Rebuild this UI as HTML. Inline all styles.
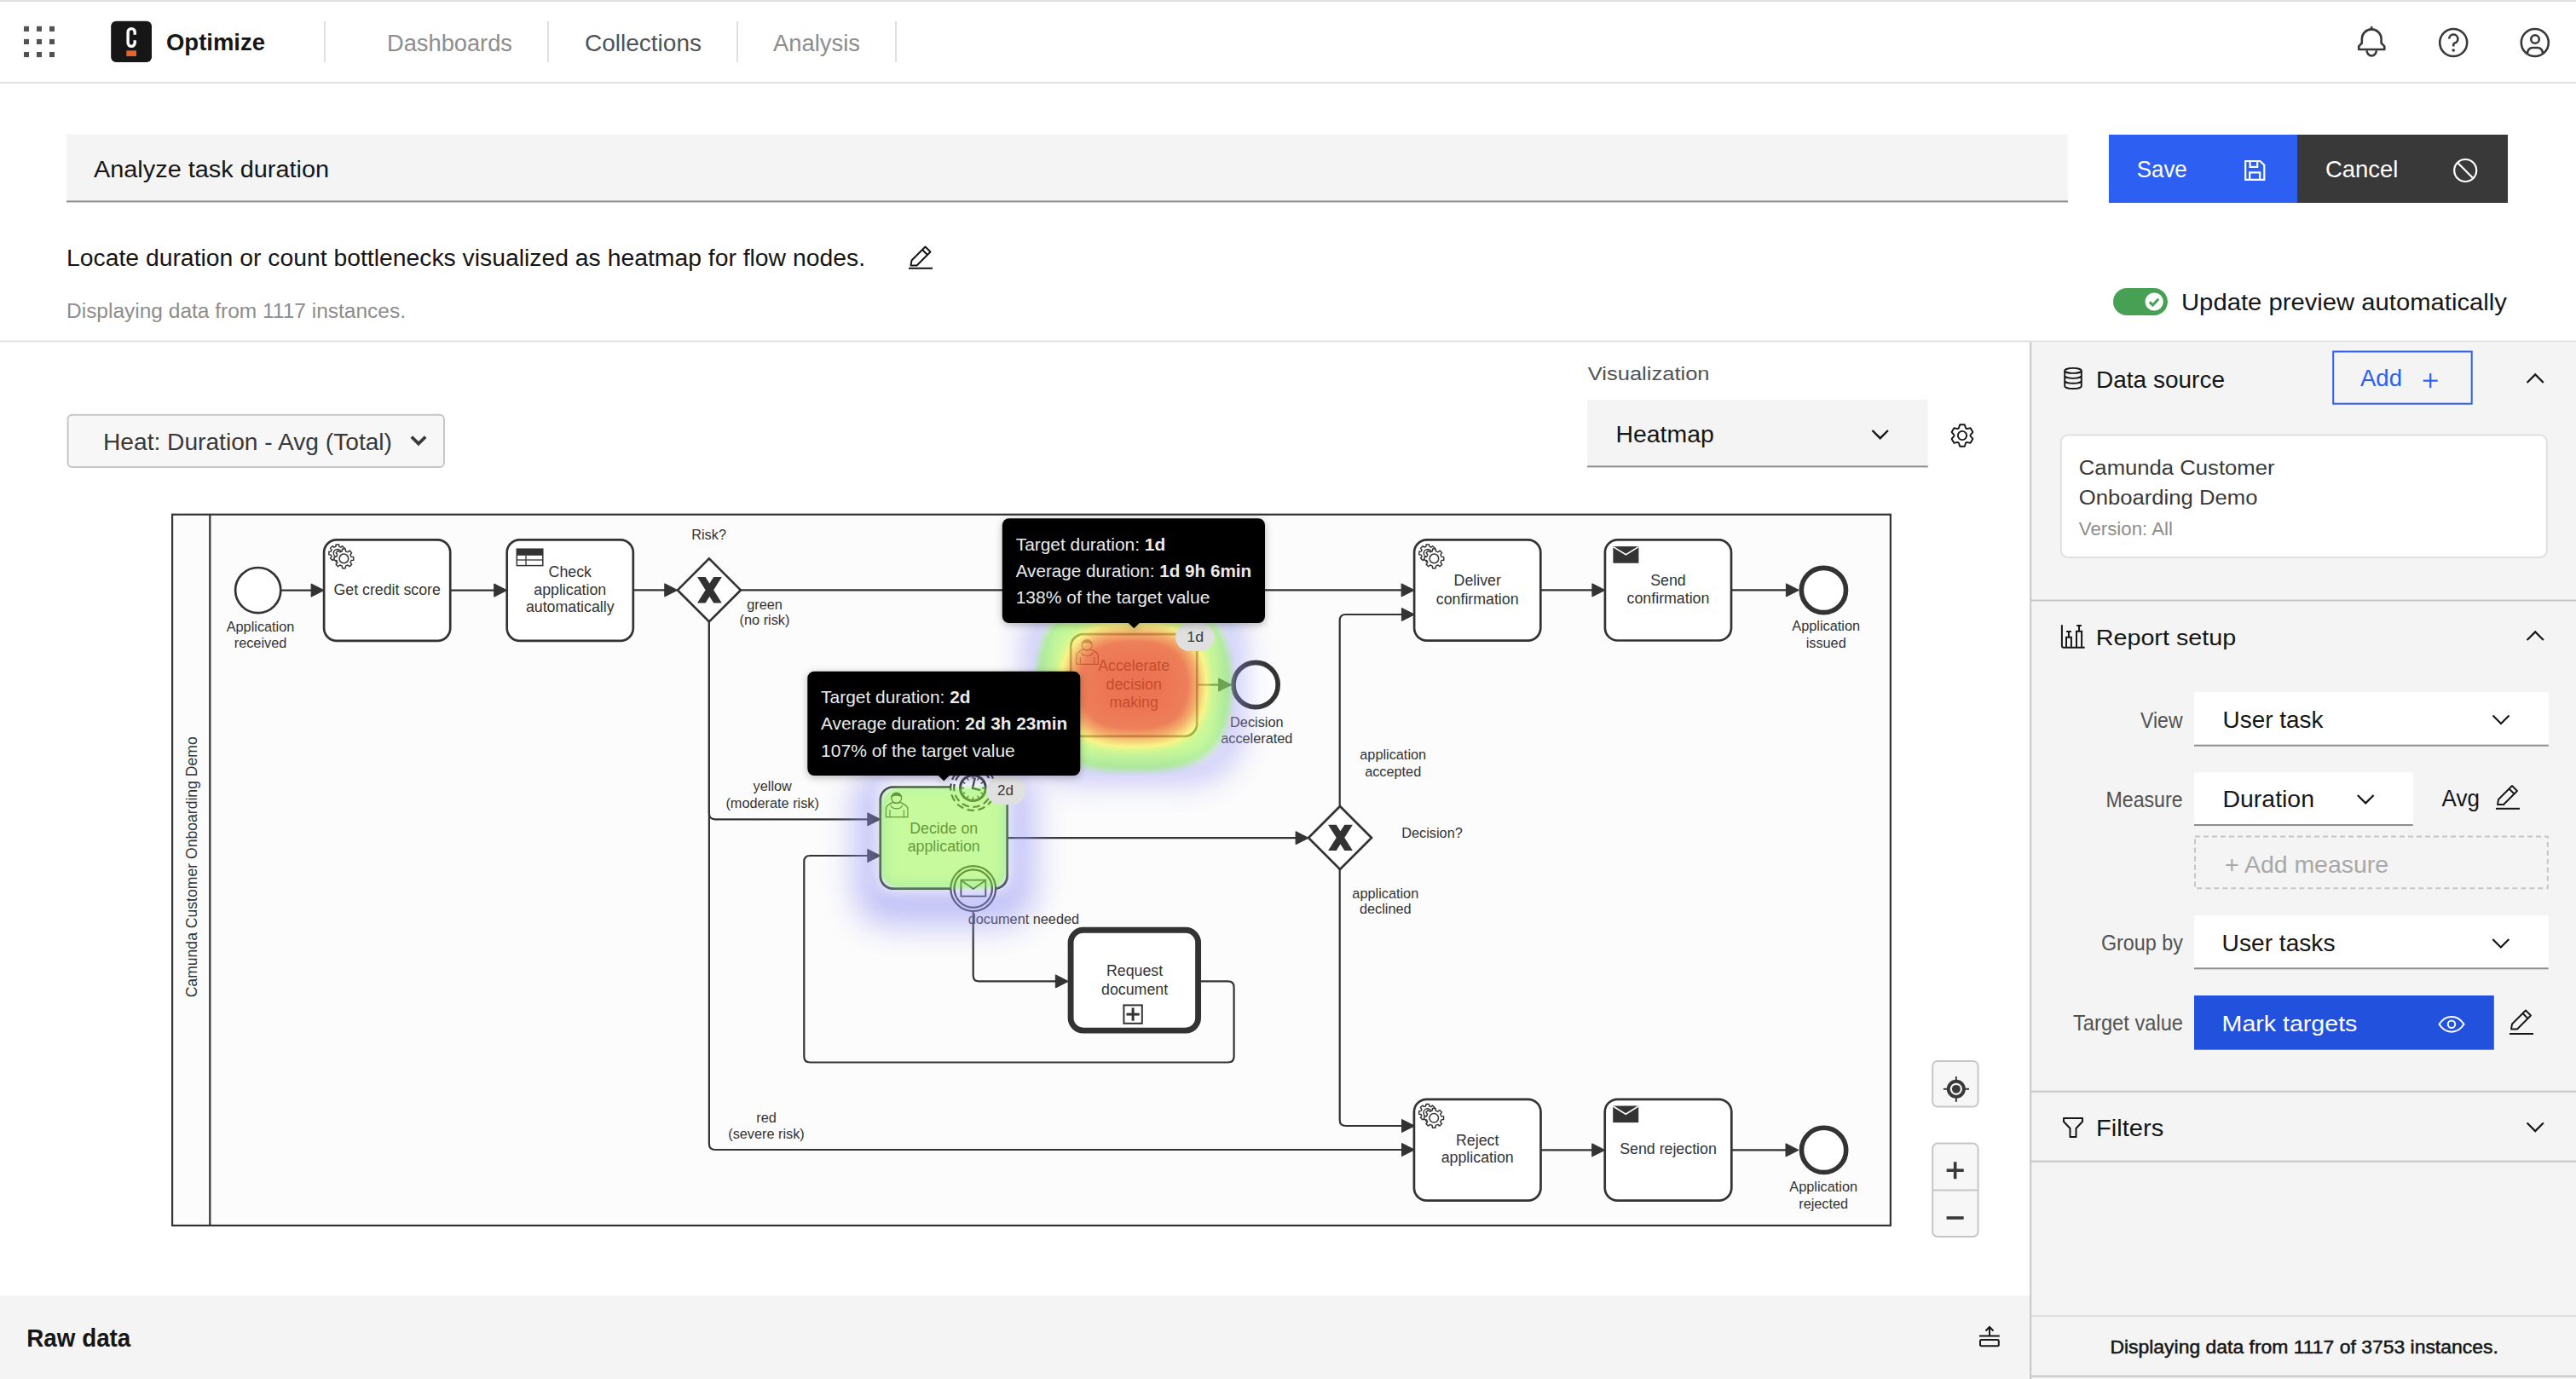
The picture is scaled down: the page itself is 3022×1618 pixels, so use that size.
<!DOCTYPE html>
<html><head><meta charset="utf-8"><title>Optimize</title><style>html,body{margin:0;padding:0;background:#fff;width:100%;height:100%;overflow:hidden;}text{font-family:"Liberation Sans",sans-serif;}</style></head><body>
<svg width="3022" height="1618" viewBox="0 0 3022 1618" preserveAspectRatio="none" style="display:block;width:100vw;height:100vh" font-family="Liberation Sans, sans-serif">
<defs>
<filter id="heat" filterUnits="userSpaceOnUse" x="900" y="620" width="700" height="560" color-interpolation-filters="sRGB">
<feGaussianBlur in="SourceAlpha" stdDeviation="30"/>
<feColorMatrix type="matrix" values="0 0 0 1 0  0 0 0 1 0  0 0 0 1 0  0 0 0 1 0"/>
<feComponentTransfer>
<feFuncR type="table" tableValues="0.506 0.506 0.506 0.506 0.506 0.506 0.506 0.506 0.506 0.506 0.506 0.506 0.506 0.506 0.506 0.506 0.506 0.506 0.506 0.506 0.506 0.506 0.506 0.506 0.506 0.506 0.508 0.512 0.516 0.519 0.523 0.527 0.531 0.535 0.539 0.543 0.546 0.550 0.554 0.558 0.562 0.566 0.569 0.573 0.577 0.581 0.585 0.589 0.593 0.596 0.600 0.604 0.608 0.612 0.616 0.620 0.623 0.627 0.631 0.635 0.639 0.643 0.654 0.667 0.680 0.692 0.705 0.718 0.731 0.744 0.757 0.770 0.783 0.796 0.808 0.821 0.834 0.847 0.860 0.873 0.886 0.899 0.911 0.924 0.937 0.950 0.963 0.972 0.971 0.971 0.970 0.969 0.969 0.968 0.967 0.967 0.966 0.966 0.965 0.964 0.964 0.963 0.962 0.962 0.961 0.961 0.960 0.959 0.959 0.958 0.957 0.957 0.956 0.956 0.955 0.954 0.954 0.953 0.952 0.952 0.951 0.951 0.950 0.949 0.948 0.947 0.946 0.945 0.945 0.944 0.943 0.942 0.941 0.940 0.939 0.938 0.937 0.936 0.935 0.934 0.933 0.933 0.932 0.931 0.930 0.929 0.928 0.927 0.926 0.925 0.924 0.923 0.922 0.921 0.920 0.920 0.919 0.918 0.917 0.917 0.916 0.916 0.916 0.916 0.916 0.916 0.916 0.916 0.916 0.916 0.915 0.915 0.915 0.915 0.915 0.915 0.915 0.915 0.915 0.915 0.914 0.914 0.914 0.914 0.914 0.914 0.914 0.914 0.914 0.914 0.913 0.913 0.913 0.913 0.913 0.913 0.913 0.913 0.913 0.913 0.912 0.912 0.912 0.912 0.912 0.912 0.912 0.912 0.912 0.912 0.911 0.911 0.911 0.911 0.911 0.911 0.911 0.911 0.911 0.911 0.910 0.910 0.910 0.910 0.910 0.910 0.910 0.910 0.910 0.909 0.909 0.909 0.909 0.909 0.909 0.909 0.909 0.909 0.909 0.908 0.908 0.908 0.908 0.908 0.908 0.908 0.908 0.908 0.908 0.907 0.907 0.907 0.907 0.907 0.907 0.907"/>
<feFuncG type="table" tableValues="0.961 0.961 0.961 0.961 0.961 0.961 0.961 0.961 0.961 0.961 0.961 0.961 0.961 0.961 0.961 0.961 0.961 0.961 0.961 0.961 0.961 0.961 0.961 0.961 0.961 0.961 0.961 0.961 0.961 0.961 0.961 0.961 0.961 0.962 0.962 0.962 0.962 0.962 0.962 0.962 0.962 0.962 0.962 0.963 0.963 0.963 0.963 0.963 0.963 0.963 0.963 0.963 0.963 0.964 0.964 0.964 0.964 0.964 0.964 0.964 0.964 0.964 0.964 0.963 0.963 0.962 0.962 0.961 0.960 0.960 0.959 0.959 0.958 0.958 0.957 0.956 0.956 0.955 0.955 0.954 0.953 0.953 0.952 0.952 0.951 0.951 0.950 0.947 0.937 0.928 0.918 0.909 0.900 0.890 0.881 0.871 0.862 0.852 0.843 0.834 0.824 0.815 0.805 0.796 0.786 0.777 0.768 0.758 0.749 0.739 0.730 0.720 0.711 0.702 0.692 0.683 0.673 0.664 0.654 0.645 0.636 0.626 0.617 0.609 0.602 0.596 0.589 0.583 0.576 0.569 0.563 0.556 0.550 0.543 0.536 0.530 0.523 0.517 0.510 0.503 0.497 0.490 0.484 0.477 0.470 0.464 0.457 0.451 0.444 0.437 0.431 0.424 0.418 0.411 0.404 0.398 0.391 0.385 0.378 0.377 0.376 0.375 0.375 0.374 0.373 0.373 0.372 0.371 0.370 0.370 0.369 0.368 0.368 0.367 0.366 0.365 0.365 0.364 0.363 0.363 0.362 0.361 0.361 0.360 0.359 0.358 0.358 0.357 0.356 0.356 0.355 0.354 0.353 0.353 0.352 0.351 0.351 0.350 0.349 0.348 0.348 0.347 0.346 0.346 0.345 0.344 0.344 0.343 0.342 0.341 0.341 0.340 0.339 0.339 0.338 0.337 0.336 0.336 0.335 0.334 0.334 0.333 0.332 0.331 0.331 0.330 0.329 0.329 0.328 0.327 0.327 0.326 0.325 0.324 0.324 0.323 0.322 0.322 0.321 0.320 0.319 0.319 0.318 0.317 0.317 0.316 0.315 0.314 0.314 0.313 0.312 0.312 0.311 0.310 0.310 0.309"/>
<feFuncB type="table" tableValues="0.255 0.255 0.255 0.255 0.255 0.255 0.255 0.255 0.255 0.255 0.255 0.255 0.255 0.255 0.255 0.255 0.255 0.255 0.255 0.255 0.255 0.255 0.255 0.255 0.255 0.255 0.255 0.255 0.256 0.256 0.256 0.257 0.257 0.257 0.257 0.258 0.258 0.258 0.259 0.259 0.259 0.260 0.260 0.260 0.260 0.261 0.261 0.261 0.262 0.262 0.262 0.263 0.263 0.263 0.263 0.264 0.264 0.264 0.265 0.265 0.265 0.266 0.268 0.271 0.274 0.277 0.280 0.284 0.287 0.290 0.293 0.296 0.299 0.302 0.305 0.308 0.311 0.315 0.318 0.321 0.324 0.327 0.330 0.333 0.336 0.339 0.342 0.344 0.342 0.340 0.338 0.336 0.334 0.332 0.329 0.327 0.325 0.323 0.321 0.319 0.317 0.315 0.313 0.311 0.309 0.307 0.305 0.303 0.301 0.299 0.297 0.294 0.292 0.290 0.288 0.286 0.284 0.282 0.280 0.278 0.276 0.274 0.272 0.270 0.267 0.265 0.263 0.261 0.258 0.256 0.254 0.252 0.250 0.247 0.245 0.243 0.241 0.238 0.236 0.234 0.232 0.229 0.227 0.225 0.223 0.220 0.218 0.216 0.214 0.212 0.209 0.207 0.205 0.203 0.200 0.198 0.196 0.194 0.191 0.191 0.191 0.190 0.190 0.190 0.189 0.189 0.189 0.188 0.188 0.188 0.188 0.187 0.187 0.187 0.186 0.186 0.186 0.185 0.185 0.185 0.185 0.184 0.184 0.184 0.183 0.183 0.183 0.182 0.182 0.182 0.181 0.181 0.181 0.181 0.180 0.180 0.180 0.179 0.179 0.179 0.178 0.178 0.178 0.178 0.177 0.177 0.177 0.176 0.176 0.176 0.175 0.175 0.175 0.175 0.174 0.174 0.174 0.173 0.173 0.173 0.172 0.172 0.172 0.171 0.171 0.171 0.171 0.170 0.170 0.170 0.169 0.169 0.169 0.168 0.168 0.168 0.168 0.167 0.167 0.167 0.166 0.166 0.166 0.165 0.165 0.165 0.164 0.164 0.164 0.164 0.163 0.163 0.163 0.162 0.162 0.162"/>
<feFuncA type="table" tableValues="0.000 0.000 0.000 0.000 0.000 0.000 0.000 0.000 0.000 0.000 0.000 0.000 0.000 0.010 0.049 0.088 0.127 0.167 0.206 0.245 0.284 0.324 0.363 0.402 0.441 0.480 0.501 0.502 0.504 0.505 0.506 0.508 0.509 0.511 0.512 0.513 0.515 0.516 0.518 0.519 0.520 0.522 0.523 0.525 0.526 0.527 0.529 0.530 0.532 0.533 0.534 0.536 0.537 0.539 0.540 0.541 0.543 0.544 0.546 0.547 0.548 0.550 0.555 0.561 0.566 0.572 0.578 0.584 0.590 0.596 0.602 0.608 0.614 0.619 0.625 0.631 0.637 0.643 0.649 0.655 0.661 0.666 0.672 0.678 0.684 0.690 0.696 0.701 0.703 0.705 0.707 0.710 0.712 0.714 0.716 0.719 0.721 0.723 0.725 0.728 0.730 0.732 0.734 0.737 0.739 0.741 0.743 0.745 0.748 0.750 0.752 0.754 0.757 0.759 0.761 0.763 0.766 0.768 0.770 0.772 0.775 0.777 0.779 0.780 0.781 0.781 0.782 0.783 0.783 0.784 0.784 0.785 0.785 0.786 0.786 0.787 0.788 0.788 0.789 0.789 0.790 0.790 0.791 0.792 0.792 0.793 0.793 0.794 0.794 0.795 0.795 0.796 0.797 0.797 0.798 0.798 0.799 0.799 0.800 0.800 0.800 0.800 0.800 0.800 0.800 0.800 0.800 0.800 0.800 0.800 0.800 0.800 0.800 0.800 0.800 0.800 0.800 0.800 0.800 0.800 0.800 0.800 0.800 0.800 0.800 0.800 0.800 0.800 0.800 0.800 0.800 0.800 0.800 0.800 0.800 0.800 0.800 0.800 0.800 0.800 0.800 0.800 0.800 0.800 0.800 0.800 0.800 0.800 0.800 0.800 0.800 0.800 0.800 0.800 0.800 0.800 0.800 0.800 0.800 0.800 0.800 0.800 0.800 0.800 0.800 0.800 0.800 0.800 0.800 0.800 0.800 0.800 0.800 0.800 0.800 0.800 0.800 0.800 0.800 0.800 0.800 0.800 0.800 0.800 0.800 0.800 0.800 0.800 0.800 0.800 0.800 0.800 0.800 0.800 0.800 0.800"/>
</feComponentTransfer>
</filter>
<filter id="heat2" filterUnits="userSpaceOnUse" x="900" y="620" width="700" height="560" color-interpolation-filters="sRGB">
<feGaussianBlur in="SourceAlpha" stdDeviation="9"/>
<feColorMatrix type="matrix" values="0 0 0 1 0  0 0 0 1 0  0 0 0 1 0  0 0 0 1 0"/>
<feComponentTransfer>
<feFuncR type="table" tableValues="0.506 0.506 0.506 0.506 0.506 0.506 0.506 0.506 0.506 0.506 0.506 0.506 0.506 0.506 0.506 0.506 0.506 0.506 0.506 0.506 0.506 0.506 0.506 0.506 0.506 0.506 0.508 0.512 0.516 0.519 0.523 0.527 0.531 0.535 0.539 0.543 0.546 0.550 0.554 0.558 0.562 0.566 0.569 0.573 0.577 0.581 0.585 0.589 0.593 0.596 0.600 0.604 0.608 0.612 0.616 0.620 0.623 0.627 0.631 0.635 0.639 0.643 0.654 0.667 0.680 0.692 0.705 0.718 0.731 0.744 0.757 0.770 0.783 0.796 0.808 0.821 0.834 0.847 0.860 0.873 0.886 0.899 0.911 0.924 0.937 0.950 0.963 0.972 0.971 0.971 0.970 0.969 0.969 0.968 0.967 0.967 0.966 0.966 0.965 0.964 0.964 0.963 0.962 0.962 0.961 0.961 0.960 0.959 0.959 0.958 0.957 0.957 0.956 0.956 0.955 0.954 0.954 0.953 0.952 0.952 0.951 0.951 0.950 0.949 0.948 0.947 0.946 0.945 0.945 0.944 0.943 0.942 0.941 0.940 0.939 0.938 0.937 0.936 0.935 0.934 0.933 0.933 0.932 0.931 0.930 0.929 0.928 0.927 0.926 0.925 0.924 0.923 0.922 0.921 0.920 0.920 0.919 0.918 0.917 0.917 0.916 0.916 0.916 0.916 0.916 0.916 0.916 0.916 0.916 0.916 0.915 0.915 0.915 0.915 0.915 0.915 0.915 0.915 0.915 0.915 0.914 0.914 0.914 0.914 0.914 0.914 0.914 0.914 0.914 0.914 0.913 0.913 0.913 0.913 0.913 0.913 0.913 0.913 0.913 0.913 0.912 0.912 0.912 0.912 0.912 0.912 0.912 0.912 0.912 0.912 0.911 0.911 0.911 0.911 0.911 0.911 0.911 0.911 0.911 0.911 0.910 0.910 0.910 0.910 0.910 0.910 0.910 0.910 0.910 0.909 0.909 0.909 0.909 0.909 0.909 0.909 0.909 0.909 0.909 0.908 0.908 0.908 0.908 0.908 0.908 0.908 0.908 0.908 0.908 0.907 0.907 0.907 0.907 0.907 0.907 0.907"/>
<feFuncG type="table" tableValues="0.961 0.961 0.961 0.961 0.961 0.961 0.961 0.961 0.961 0.961 0.961 0.961 0.961 0.961 0.961 0.961 0.961 0.961 0.961 0.961 0.961 0.961 0.961 0.961 0.961 0.961 0.961 0.961 0.961 0.961 0.961 0.961 0.961 0.962 0.962 0.962 0.962 0.962 0.962 0.962 0.962 0.962 0.962 0.963 0.963 0.963 0.963 0.963 0.963 0.963 0.963 0.963 0.963 0.964 0.964 0.964 0.964 0.964 0.964 0.964 0.964 0.964 0.964 0.963 0.963 0.962 0.962 0.961 0.960 0.960 0.959 0.959 0.958 0.958 0.957 0.956 0.956 0.955 0.955 0.954 0.953 0.953 0.952 0.952 0.951 0.951 0.950 0.947 0.937 0.928 0.918 0.909 0.900 0.890 0.881 0.871 0.862 0.852 0.843 0.834 0.824 0.815 0.805 0.796 0.786 0.777 0.768 0.758 0.749 0.739 0.730 0.720 0.711 0.702 0.692 0.683 0.673 0.664 0.654 0.645 0.636 0.626 0.617 0.609 0.602 0.596 0.589 0.583 0.576 0.569 0.563 0.556 0.550 0.543 0.536 0.530 0.523 0.517 0.510 0.503 0.497 0.490 0.484 0.477 0.470 0.464 0.457 0.451 0.444 0.437 0.431 0.424 0.418 0.411 0.404 0.398 0.391 0.385 0.378 0.377 0.376 0.375 0.375 0.374 0.373 0.373 0.372 0.371 0.370 0.370 0.369 0.368 0.368 0.367 0.366 0.365 0.365 0.364 0.363 0.363 0.362 0.361 0.361 0.360 0.359 0.358 0.358 0.357 0.356 0.356 0.355 0.354 0.353 0.353 0.352 0.351 0.351 0.350 0.349 0.348 0.348 0.347 0.346 0.346 0.345 0.344 0.344 0.343 0.342 0.341 0.341 0.340 0.339 0.339 0.338 0.337 0.336 0.336 0.335 0.334 0.334 0.333 0.332 0.331 0.331 0.330 0.329 0.329 0.328 0.327 0.327 0.326 0.325 0.324 0.324 0.323 0.322 0.322 0.321 0.320 0.319 0.319 0.318 0.317 0.317 0.316 0.315 0.314 0.314 0.313 0.312 0.312 0.311 0.310 0.310 0.309"/>
<feFuncB type="table" tableValues="0.255 0.255 0.255 0.255 0.255 0.255 0.255 0.255 0.255 0.255 0.255 0.255 0.255 0.255 0.255 0.255 0.255 0.255 0.255 0.255 0.255 0.255 0.255 0.255 0.255 0.255 0.255 0.255 0.256 0.256 0.256 0.257 0.257 0.257 0.257 0.258 0.258 0.258 0.259 0.259 0.259 0.260 0.260 0.260 0.260 0.261 0.261 0.261 0.262 0.262 0.262 0.263 0.263 0.263 0.263 0.264 0.264 0.264 0.265 0.265 0.265 0.266 0.268 0.271 0.274 0.277 0.280 0.284 0.287 0.290 0.293 0.296 0.299 0.302 0.305 0.308 0.311 0.315 0.318 0.321 0.324 0.327 0.330 0.333 0.336 0.339 0.342 0.344 0.342 0.340 0.338 0.336 0.334 0.332 0.329 0.327 0.325 0.323 0.321 0.319 0.317 0.315 0.313 0.311 0.309 0.307 0.305 0.303 0.301 0.299 0.297 0.294 0.292 0.290 0.288 0.286 0.284 0.282 0.280 0.278 0.276 0.274 0.272 0.270 0.267 0.265 0.263 0.261 0.258 0.256 0.254 0.252 0.250 0.247 0.245 0.243 0.241 0.238 0.236 0.234 0.232 0.229 0.227 0.225 0.223 0.220 0.218 0.216 0.214 0.212 0.209 0.207 0.205 0.203 0.200 0.198 0.196 0.194 0.191 0.191 0.191 0.190 0.190 0.190 0.189 0.189 0.189 0.188 0.188 0.188 0.188 0.187 0.187 0.187 0.186 0.186 0.186 0.185 0.185 0.185 0.185 0.184 0.184 0.184 0.183 0.183 0.183 0.182 0.182 0.182 0.181 0.181 0.181 0.181 0.180 0.180 0.180 0.179 0.179 0.179 0.178 0.178 0.178 0.178 0.177 0.177 0.177 0.176 0.176 0.176 0.175 0.175 0.175 0.175 0.174 0.174 0.174 0.173 0.173 0.173 0.172 0.172 0.172 0.171 0.171 0.171 0.171 0.170 0.170 0.170 0.169 0.169 0.169 0.168 0.168 0.168 0.168 0.167 0.167 0.167 0.166 0.166 0.166 0.165 0.165 0.165 0.164 0.164 0.164 0.164 0.163 0.163 0.163 0.162 0.162 0.162"/>
<feFuncA type="table" tableValues="0.000 0.000 0.000 0.000 0.000 0.000 0.000 0.000 0.000 0.000 0.000 0.000 0.000 0.010 0.049 0.088 0.127 0.167 0.206 0.245 0.284 0.324 0.363 0.402 0.441 0.480 0.501 0.502 0.504 0.505 0.506 0.508 0.509 0.511 0.512 0.513 0.515 0.516 0.518 0.519 0.520 0.522 0.523 0.525 0.526 0.527 0.529 0.530 0.532 0.533 0.534 0.536 0.537 0.539 0.540 0.541 0.543 0.544 0.546 0.547 0.548 0.550 0.555 0.561 0.566 0.572 0.578 0.584 0.590 0.596 0.602 0.608 0.614 0.619 0.625 0.631 0.637 0.643 0.649 0.655 0.661 0.666 0.672 0.678 0.684 0.690 0.696 0.701 0.703 0.705 0.707 0.710 0.712 0.714 0.716 0.719 0.721 0.723 0.725 0.728 0.730 0.732 0.734 0.737 0.739 0.741 0.743 0.745 0.748 0.750 0.752 0.754 0.757 0.759 0.761 0.763 0.766 0.768 0.770 0.772 0.775 0.777 0.779 0.780 0.781 0.781 0.782 0.783 0.783 0.784 0.784 0.785 0.785 0.786 0.786 0.787 0.788 0.788 0.789 0.789 0.790 0.790 0.791 0.792 0.792 0.793 0.793 0.794 0.794 0.795 0.795 0.796 0.797 0.797 0.798 0.798 0.799 0.799 0.800 0.800 0.800 0.800 0.800 0.800 0.800 0.800 0.800 0.800 0.800 0.800 0.800 0.800 0.800 0.800 0.800 0.800 0.800 0.800 0.800 0.800 0.800 0.800 0.800 0.800 0.800 0.800 0.800 0.800 0.800 0.800 0.800 0.800 0.800 0.800 0.800 0.800 0.800 0.800 0.800 0.800 0.800 0.800 0.800 0.800 0.800 0.800 0.800 0.800 0.800 0.800 0.800 0.800 0.800 0.800 0.800 0.800 0.800 0.800 0.800 0.800 0.800 0.800 0.800 0.800 0.800 0.800 0.800 0.800 0.800 0.800 0.800 0.800 0.800 0.800 0.800 0.800 0.800 0.800 0.800 0.800 0.800 0.800 0.800 0.800 0.800 0.800 0.800 0.800 0.800 0.800 0.800 0.800 0.800 0.800 0.800 0.800"/>
</feComponentTransfer>
</filter>
<filter id="halo" filterUnits="userSpaceOnUse" x="850" y="600" width="800" height="600"><feGaussianBlur stdDeviation="19"/></filter>
<filter id="mblur" filterUnits="userSpaceOnUse" x="850" y="600" width="800" height="600"><feGaussianBlur stdDeviation="10"/></filter>
<mask id="halomask" maskUnits="userSpaceOnUse" x="850" y="600" width="800" height="600">
<rect x="850" y="600" width="800" height="600" fill="#fff"/>
<g filter="url(#mblur)"><rect x="1226.2" y="714.1" width="208" height="179.8" rx="40" fill="#000"/><rect x="1030.8" y="913.5" width="152.8" height="131.1" rx="15" fill="#000"/></g>
</mask>
<filter id="tshadow" x="-20%" y="-20%" width="140%" height="140%" color-interpolation-filters="sRGB">
<feDropShadow dx="0" dy="2" stdDeviation="5" flood-color="#000" flood-opacity="0.28"/>
</filter>
<marker id="arr" viewBox="0 0 20 20" refX="11" refY="10" markerWidth="10" markerHeight="10" orient="auto"><path d="M1,5 L11,10 L1,15 Z" fill="#22242a"/></marker>
</defs>
<rect x="0.00" y="0.00" width="3022.00" height="2.00" fill="#e0e0e0"/>
<rect x="0.00" y="96.00" width="3022.00" height="2.00" fill="#e0e0e0"/>
<rect x="28.00" y="30.80" width="6.00" height="6.10" fill="#525252"/>
<rect x="28.00" y="45.90" width="6.00" height="6.10" fill="#525252"/>
<rect x="28.00" y="61.00" width="6.00" height="6.10" fill="#525252"/>
<rect x="43.00" y="30.80" width="6.00" height="6.10" fill="#525252"/>
<rect x="43.00" y="45.90" width="6.00" height="6.10" fill="#525252"/>
<rect x="43.00" y="61.00" width="6.00" height="6.10" fill="#525252"/>
<rect x="58.00" y="30.80" width="6.00" height="6.10" fill="#525252"/>
<rect x="58.00" y="45.90" width="6.00" height="6.10" fill="#525252"/>
<rect x="58.00" y="61.00" width="6.00" height="6.10" fill="#525252"/>
<rect x="130.20" y="24.80" width="47.80" height="48.20" fill="#161616" rx="6"/>
<path d="M158.2,40.8 V37.65 A4.05,4.05 0 0 0 150.1,37.65 V50.35 A4.05,4.05 0 0 0 158.2,50.35 V47.2" fill="none" stroke="#fff" stroke-width="3.4"/>
<rect x="148.30" y="59.30" width="11.70" height="6.70" fill="#e8632b"/>
<text x="195.00" y="59.00" font-size="28.21" fill="#161616" font-weight="bold" textLength="115.99" lengthAdjust="spacingAndGlyphs">Optimize</text>
<rect x="380.00" y="25.00" width="2.00" height="48.00" fill="#e0e0e0"/>
<rect x="642.00" y="25.00" width="2.00" height="48.00" fill="#e0e0e0"/>
<rect x="864.00" y="25.00" width="2.00" height="48.00" fill="#e0e0e0"/>
<rect x="1050.00" y="25.00" width="2.00" height="48.00" fill="#e0e0e0"/>
<text x="454.00" y="60.10" font-size="27.93" fill="#8d8d8d" textLength="147.00" lengthAdjust="spacingAndGlyphs">Dashboards</text>
<text x="686.00" y="60.10" font-size="27.93" fill="#525252" textLength="137.00" lengthAdjust="spacingAndGlyphs">Collections</text>
<text x="907.00" y="60.10" font-size="27.93" fill="#8d8d8d" textLength="101.99" lengthAdjust="spacingAndGlyphs">Analysis</text>
<path d="M2782.2,34 V31" fill="none" stroke="#393939" stroke-width="2.6"/>
<path d="M2770.8,50.5 V45.8 A11.4,11.4 0 0 1 2793.6,45.8 V50.5 L2797.3,54.3 V58 H2767.2 V54.3 Z" fill="none" stroke="#393939" stroke-width="2.6" stroke-linejoin="round"/>
<path d="M2776.6,59.2 A5.6,6.4 0 0 0 2787.8,59.2" fill="none" stroke="#393939" stroke-width="2.6"/>
<circle cx="2878.2" cy="50" r="16" fill="none" stroke="#393939" stroke-width="2.6"/>
<path d="M2873.2,45.6 A5.1,5.1 0 1 1 2879.5,50.6 Q2878.2,51.2 2878.2,52.8 V54.4" fill="none" stroke="#393939" stroke-width="2.6"/>
<circle cx="2878.2" cy="59" r="1.8" fill="#393939"/>
<circle cx="2973.8" cy="50" r="16" fill="none" stroke="#393939" stroke-width="2.6"/>
<circle cx="2974" cy="46" r="4.8" fill="none" stroke="#393939" stroke-width="2.6"/>
<path d="M2965.2,62.6 A6,6 0 0 1 2970.6,56 H2977.4 A6,6 0 0 1 2982.8,62.6" fill="none" stroke="#393939" stroke-width="2.6"/>
<rect x="78.00" y="157.70" width="2348.00" height="78.00" fill="#f4f4f4"/>
<rect x="78.00" y="235.40" width="2348.00" height="2.00" fill="#8d8d8d"/>
<text x="110.00" y="208.00" font-size="27.93" fill="#161616" textLength="276.00" lengthAdjust="spacingAndGlyphs">Analyze task duration</text>
<rect x="2474.00" y="158.00" width="221.00" height="80.00" fill="#2c5ff2"/>
<text x="2506.70" y="207.60" font-size="27.09" fill="#ffffff" textLength="59.11" lengthAdjust="spacingAndGlyphs">Save</text>
<path d="M2634.2,189 H2651.5 L2656.3,193.8 V210.8 H2634.2 Z" fill="none" stroke="#fff" stroke-width="2.2" stroke-linejoin="miter"/>
<path d="M2639.6,189 V195.8 H2648.2 V189" fill="none" stroke="#fff" stroke-width="2.2"/>
<path d="M2639.2,210.8 V202.4 H2651.2 V210.8" fill="none" stroke="#fff" stroke-width="2.2"/>
<rect x="2695.00" y="158.00" width="247.00" height="80.00" fill="#393939"/>
<text x="2727.90" y="207.60" font-size="27.37" fill="#ffffff" textLength="85.49" lengthAdjust="spacingAndGlyphs">Cancel</text>
<circle cx="2892.2" cy="200" r="13" fill="none" stroke="#fff" stroke-width="2.2"/>
<line x1="2883.00" y1="190.80" x2="2901.40" y2="209.20" stroke="#fff" stroke-width="2.2"/>
<text x="78.00" y="312.10" font-size="27.93" fill="#161616" textLength="937.01" lengthAdjust="spacingAndGlyphs">Locate duration or count bottlenecks visualized as heatmap for flow nodes.</text>
<path d="M1068.5,311.5 L1069.5,305.5 L1085.5,289.5 L1091.5,295.5 L1075.5,311.5 Z M1082,293 L1088,299" fill="none" stroke="#161616" stroke-width="2.0" stroke-linejoin="round"/>
<rect x="1066.00" y="313.80" width="28.00" height="2.00" fill="#161616"/>
<text x="78.00" y="372.90" font-size="23.04" fill="#8d8d8d" textLength="397.99" lengthAdjust="spacingAndGlyphs">Displaying data from 1117 instances.</text>
<rect x="2479.00" y="338.00" width="64.00" height="32.00" fill="#48a055" rx="16"/>
<circle cx="2527.2" cy="354" r="10.6" fill="#fff"/>
<path d="M2521.8,354.4 L2525.4,358 L2532.2,350.8" fill="none" stroke="#48a055" stroke-width="3"/>
<text x="2559.00" y="364.40" font-size="28.49" fill="#161616" textLength="382.00" lengthAdjust="spacingAndGlyphs">Update preview automatically</text>
<rect x="0.00" y="399.50" width="3022.00" height="2.00" fill="#e0e0e0"/>
<rect x="79.60" y="486.70" width="441.40" height="61.30" fill="#f7f7f7" rx="5" stroke="#c6c6c6" stroke-width="2"/>
<text x="121.00" y="527.90" font-size="27.37" fill="#393939" textLength="338.99" lengthAdjust="spacingAndGlyphs">Heat: Duration - Avg (Total)</text>
<path d="M482.8,512.5 L491,520.5 L499.2,512.5" fill="none" stroke="#393939" stroke-width="3.8"/>
<text x="1862.80" y="445.90" font-size="22.35" fill="#525252" textLength="142.71" lengthAdjust="spacingAndGlyphs">Visualization</text>
<rect x="1862.00" y="469.00" width="399.70" height="78.00" fill="#f4f4f4"/>
<rect x="1862.00" y="546.40" width="399.70" height="2.00" fill="#8d8d8d"/>
<text x="1895.50" y="519.10" font-size="27.65" fill="#161616" textLength="115.29" lengthAdjust="spacingAndGlyphs">Heatmap</text>
<path d="M2196.5,505 L2205.7,514.2 L2214.9,505" fill="none" stroke="#161616" stroke-width="2.4"/>
<path d="M2297.84,502.35 L2299.22,498.30 L2304.78,498.30 L2306.16,502.35 L2307.41,503.07 L2311.61,502.24 L2314.39,507.06 L2311.57,510.27 L2311.57,511.73 L2314.39,514.94 L2311.61,519.76 L2307.41,518.93 L2306.16,519.65 L2304.78,523.70 L2299.22,523.70 L2297.84,519.65 L2296.59,518.93 L2292.39,519.76 L2289.61,514.94 L2292.43,511.73 L2292.43,510.27 L2289.61,507.06 L2292.39,502.24 L2296.59,503.07 Z" fill="none" stroke="#161616" stroke-width="1.9" stroke-linejoin="round"/>
<circle cx="2302" cy="511" r="5.1" fill="none" stroke="#161616" stroke-width="1.9"/>
<rect x="2267.20" y="1244.90" width="53.40" height="53.70" fill="#f7f7f7" rx="6" stroke="#c6c6c6" stroke-width="2"/>
<circle cx="2294.85" cy="1277.8" r="9.1" fill="none" stroke="#393939" stroke-width="3.9"/>
<circle cx="2294.85" cy="1277.8" r="4.9" fill="#393939"/>
<line x1="2294.85" y1="1263.00" x2="2294.85" y2="1267.50" stroke="#393939" stroke-width="2"/>
<line x1="2294.85" y1="1288.20" x2="2294.85" y2="1292.90" stroke="#393939" stroke-width="2"/>
<line x1="2279.90" y1="1277.80" x2="2284.40" y2="1277.80" stroke="#393939" stroke-width="2"/>
<line x1="2305.30" y1="1277.80" x2="2310.00" y2="1277.80" stroke="#393939" stroke-width="2"/>
<rect x="2267.20" y="1341.60" width="53.40" height="109.40" fill="#f7f7f7" rx="6" stroke="#c6c6c6" stroke-width="2"/>
<rect x="2267.20" y="1395.50" width="53.40" height="2.00" fill="#c6c6c6"/>
<rect x="2283.60" y="1371.40" width="20.10" height="3.60" fill="#393939"/>
<rect x="2291.85" y="1363.20" width="3.60" height="20.00" fill="#393939"/>
<rect x="2283.60" y="1427.20" width="20.10" height="3.60" fill="#393939"/>
<rect x="0.00" y="1520.00" width="2382.00" height="98.00" fill="#f4f4f4"/>
<text x="31.30" y="1580.00" font-size="29.33" fill="#161616" font-weight="bold" textLength="122.01" lengthAdjust="spacingAndGlyphs">Raw data</text>
<path d="M2334,1568 V1557 M2329.5,1561.5 L2334,1557 L2338.5,1561.5" fill="none" stroke="#161616" stroke-width="2"/>
<rect x="2322.00" y="1566.50" width="23.80" height="2.00" fill="#161616"/>
<rect x="2323.00" y="1572.00" width="21.80" height="7.20" fill="none" rx="1.5" stroke="#161616" stroke-width="2"/>
<rect x="202.07" y="603.70" width="2015.80" height="834.20" fill="#fcfcfc" stroke="#333333" stroke-width="2.2"/>
<line x1="246.30" y1="603.70" x2="246.30" y2="1437.90" stroke="#333333" stroke-width="2.2"/>
<text transform="translate(230.6,1017.3) rotate(-90)" font-size="17.6" fill="#333333" text-anchor="middle">Camunda Customer Onboarding Demo</text>
<path d="M330.00,692.60 L371.10,692.60" fill="none" stroke="#333333" stroke-width="2.2" stroke-linejoin="round"/>
<path d="M380.10,692.60 L365.10,700.20 L365.10,685.00 Z" fill="#333333" stroke="#333333" stroke-width="1" stroke-linejoin="round"/>
<path d="M528.20,692.60 L585.70,692.60" fill="none" stroke="#333333" stroke-width="2.2" stroke-linejoin="round"/>
<path d="M594.70,692.60 L579.70,700.20 L579.70,685.00 Z" fill="#333333" stroke="#333333" stroke-width="1" stroke-linejoin="round"/>
<path d="M742.80,692.40 L785.75,692.40" fill="none" stroke="#333333" stroke-width="2.2" stroke-linejoin="round"/>
<path d="M794.75,692.40 L779.75,700.00 L779.75,684.80 Z" fill="#333333" stroke="#333333" stroke-width="1" stroke-linejoin="round"/>
<path d="M868.80,692.40 L1650.10,692.40" fill="none" stroke="#333333" stroke-width="2.2" stroke-linejoin="round"/>
<path d="M1659.10,692.40 L1644.10,700.00 L1644.10,684.80 Z" fill="#333333" stroke="#333333" stroke-width="1" stroke-linejoin="round"/>
<path d="M831.90,728.90 L831.90,954.30 Q831.90,961.30 838.90,961.30 L1023.80,961.30" fill="none" stroke="#333333" stroke-width="2.2" stroke-linejoin="round"/>
<path d="M1032.80,961.30 L1017.80,968.90 L1017.80,953.70 Z" fill="#333333" stroke="#333333" stroke-width="1" stroke-linejoin="round"/>
<path d="M831.90,728.90 L831.90,1342.00 Q831.90,1349.00 838.90,1349.00 L1650.50,1349.00" fill="none" stroke="#333333" stroke-width="2.2" stroke-linejoin="round"/>
<path d="M1659.50,1349.00 L1644.50,1356.60 L1644.50,1341.40 Z" fill="#333333" stroke="#333333" stroke-width="1" stroke-linejoin="round"/>
<path d="M1181.60,983.20 L1526.10,983.20" fill="none" stroke="#333333" stroke-width="2.2" stroke-linejoin="round"/>
<path d="M1535.10,983.20 L1520.10,990.80 L1520.10,975.60 Z" fill="#333333" stroke="#333333" stroke-width="1" stroke-linejoin="round"/>
<path d="M1571.70,946.30 L1571.70,728.00 Q1571.70,721.00 1578.70,721.00 L1650.40,721.00" fill="none" stroke="#333333" stroke-width="2.2" stroke-linejoin="round"/>
<path d="M1659.40,721.00 L1644.40,728.60 L1644.40,713.40 Z" fill="#333333" stroke="#333333" stroke-width="1" stroke-linejoin="round"/>
<path d="M1571.70,1019.70 L1571.70,1314.00 Q1571.70,1321.00 1578.70,1321.00 L1650.50,1321.00" fill="none" stroke="#333333" stroke-width="2.2" stroke-linejoin="round"/>
<path d="M1659.50,1321.00 L1644.50,1328.60 L1644.50,1313.40 Z" fill="#333333" stroke="#333333" stroke-width="1" stroke-linejoin="round"/>
<path d="M1807.30,692.40 L1873.90,692.40" fill="none" stroke="#333333" stroke-width="2.2" stroke-linejoin="round"/>
<path d="M1882.90,692.40 L1867.90,700.00 L1867.90,684.80 Z" fill="#333333" stroke="#333333" stroke-width="1" stroke-linejoin="round"/>
<path d="M2031.00,692.40 L2101.40,692.40" fill="none" stroke="#333333" stroke-width="2.2" stroke-linejoin="round"/>
<path d="M2110.40,692.40 L2095.40,700.00 L2095.40,684.80 Z" fill="#333333" stroke="#333333" stroke-width="1" stroke-linejoin="round"/>
<path d="M1807.50,1349.40 L1873.70,1349.40" fill="none" stroke="#333333" stroke-width="2.2" stroke-linejoin="round"/>
<path d="M1882.70,1349.40 L1867.70,1357.00 L1867.70,1341.80 Z" fill="#333333" stroke="#333333" stroke-width="1" stroke-linejoin="round"/>
<path d="M2031.00,1349.40 L2101.00,1349.40" fill="none" stroke="#333333" stroke-width="2.2" stroke-linejoin="round"/>
<path d="M2110.00,1349.40 L2095.00,1357.00 L2095.00,1341.80 Z" fill="#333333" stroke="#333333" stroke-width="1" stroke-linejoin="round"/>
<path d="M1404.20,803.50 L1435.60,803.50" fill="none" stroke="#333333" stroke-width="2.2" stroke-linejoin="round"/>
<path d="M1444.60,803.50 L1429.60,811.10 L1429.60,795.90 Z" fill="#333333" stroke="#333333" stroke-width="1" stroke-linejoin="round"/>
<path d="M1141.70,1069.50 L1141.70,1144.40 Q1141.70,1151.40 1148.70,1151.40 L1244.30,1151.40" fill="none" stroke="#333333" stroke-width="2.2" stroke-linejoin="round"/>
<path d="M1253.30,1151.40 L1238.30,1159.00 L1238.30,1143.80 Z" fill="#333333" stroke="#333333" stroke-width="1" stroke-linejoin="round"/>
<path d="M1406.20,1151.40 L1440.60,1151.40 Q1447.60,1151.40 1447.60,1158.40 L1447.60,1239.50 Q1447.60,1246.50 1440.60,1246.50 L950.30,1246.50 Q943.30,1246.50 943.30,1239.50 L943.30,1011.00 Q943.30,1004.00 950.30,1004.00 L1023.80,1004.00" fill="none" stroke="#333333" stroke-width="2.2" stroke-linejoin="round"/>
<path d="M1032.80,1004.00 L1017.80,1011.60 L1017.80,996.40 Z" fill="#333333" stroke="#333333" stroke-width="1" stroke-linejoin="round"/>
<circle cx="302.7" cy="692.6" r="26.6" fill="#ffffff" stroke="#333333" stroke-width="2.7"/>
<text x="305.50" y="741.00" font-size="16.29" fill="#333333" text-anchor="middle">Application</text>
<text x="305.50" y="760.10" font-size="16.29" fill="#333333" text-anchor="middle">received</text>
<rect x="380.10" y="633.40" width="148.10" height="118.50" fill="#ffffff" rx="14.8" stroke="#333333" stroke-width="2.7"/>
<path d="M393.82,641.43 L394.11,639.01 L397.69,639.01 L397.98,641.43 L399.82,642.19 L401.73,640.68 L404.27,643.22 L402.76,645.13 L403.52,646.97 L405.94,647.26 L405.94,650.84 L403.52,651.13 L402.76,652.97 L404.27,654.88 L401.73,657.42 L399.82,655.91 L397.98,656.67 L397.69,659.09 L394.11,659.09 L393.82,656.67 L391.98,655.91 L390.07,657.42 L387.53,654.88 L389.04,652.97 L388.28,651.13 L385.86,650.84 L385.86,647.26 L388.28,646.97 L389.04,645.13 L387.53,643.22 L390.07,640.68 L391.98,642.19 Z" fill="#ffffff" stroke="#333333" stroke-width="1.45" stroke-linejoin="round"/>
<circle cx="395.90" cy="649.05" r="4.6" fill="none" stroke="#333333" stroke-width="1.5"/>
<path d="M412.05,653.32 L414.76,653.61 L414.76,657.19 L412.05,657.48 L410.99,660.05 L412.70,662.16 L410.16,664.70 L408.05,662.99 L405.48,664.05 L405.19,666.76 L401.61,666.76 L401.32,664.05 L398.75,662.99 L396.64,664.70 L394.10,662.16 L395.81,660.05 L394.75,657.48 L392.04,657.19 L392.04,653.61 L394.75,653.32 L395.81,650.75 L394.10,648.64 L396.64,646.10 L398.75,647.81 L401.32,646.75 L401.61,644.04 L405.19,644.04 L405.48,646.75 L408.05,647.81 L410.16,646.10 L412.70,648.64 L410.99,650.75 Z" fill="#ffffff" stroke="#333333" stroke-width="1.45" stroke-linejoin="round"/>
<circle cx="403.40" cy="655.40" r="5.3" fill="none" stroke="#333333" stroke-width="1.5"/>
<text x="454.15" y="697.60" font-size="17.77" fill="#333333" text-anchor="middle">Get credit score</text>
<rect x="594.70" y="633.40" width="148.10" height="118.50" fill="#ffffff" rx="14.8" stroke="#333333" stroke-width="2.7"/>
<rect x="606.30" y="644.20" width="30.50" height="19.40" fill="#fff" stroke="#333333" stroke-width="1.5"/>
<rect x="606.30" y="644.20" width="30.50" height="7.60" fill="#333333"/>
<line x1="606.30" y1="657.00" x2="636.80" y2="657.00" stroke="#333333" stroke-width="1.3"/>
<line x1="617.00" y1="651.80" x2="617.00" y2="663.60" stroke="#333333" stroke-width="1.3"/>
<text x="668.75" y="676.50" font-size="17.77" fill="#333333" text-anchor="middle">Check</text>
<text x="668.75" y="697.60" font-size="17.77" fill="#333333" text-anchor="middle">application</text>
<text x="668.75" y="718.00" font-size="17.77" fill="#333333" text-anchor="middle">automatically</text>
<path d="M831.9,655.4 L868.9,692.4 L831.9,729.4 L794.9,692.4 Z" fill="#ffffff" stroke="#333333" stroke-width="2.7" stroke-linejoin="miter"/>
<path d="M818.0,677.1 L827.6,677.1 L846.8,707.5 L837.1999999999999,707.5 Z M837.1999999999999,677.1 L846.8,677.1 L827.6,707.5 L818.0,707.5 Z" fill="#333333" fill-rule="nonzero"/>
<text x="831.60" y="632.90" font-size="16.29" fill="#333333" text-anchor="middle">Risk?</text>
<text x="897.00" y="714.90" font-size="16.29" fill="#333333" text-anchor="middle">green</text>
<text x="897.00" y="733.20" font-size="16.29" fill="#333333" text-anchor="middle">(no risk)</text>
<text x="906.20" y="928.20" font-size="16.29" fill="#333333" text-anchor="middle">yellow</text>
<text x="906.20" y="947.50" font-size="16.29" fill="#333333" text-anchor="middle">(moderate risk)</text>
<text x="899.00" y="1316.90" font-size="16.29" fill="#333333" text-anchor="middle">red</text>
<text x="899.00" y="1336.00" font-size="16.29" fill="#333333" text-anchor="middle">(severe risk)</text>
<rect x="1659.10" y="633.40" width="148.20" height="118.20" fill="#ffffff" rx="14.8" stroke="#333333" stroke-width="2.7"/>
<path d="M1672.82,641.43 L1673.11,639.01 L1676.69,639.01 L1676.98,641.43 L1678.82,642.19 L1680.73,640.68 L1683.27,643.22 L1681.76,645.13 L1682.52,646.97 L1684.94,647.26 L1684.94,650.84 L1682.52,651.13 L1681.76,652.97 L1683.27,654.88 L1680.73,657.42 L1678.82,655.91 L1676.98,656.67 L1676.69,659.09 L1673.11,659.09 L1672.82,656.67 L1670.98,655.91 L1669.07,657.42 L1666.53,654.88 L1668.04,652.97 L1667.28,651.13 L1664.86,650.84 L1664.86,647.26 L1667.28,646.97 L1668.04,645.13 L1666.53,643.22 L1669.07,640.68 L1670.98,642.19 Z" fill="#ffffff" stroke="#333333" stroke-width="1.45" stroke-linejoin="round"/>
<circle cx="1674.90" cy="649.05" r="4.6" fill="none" stroke="#333333" stroke-width="1.5"/>
<path d="M1691.05,653.32 L1693.76,653.61 L1693.76,657.19 L1691.05,657.48 L1689.99,660.05 L1691.70,662.16 L1689.16,664.70 L1687.05,662.99 L1684.48,664.05 L1684.19,666.76 L1680.61,666.76 L1680.32,664.05 L1677.75,662.99 L1675.64,664.70 L1673.10,662.16 L1674.81,660.05 L1673.75,657.48 L1671.04,657.19 L1671.04,653.61 L1673.75,653.32 L1674.81,650.75 L1673.10,648.64 L1675.64,646.10 L1677.75,647.81 L1680.32,646.75 L1680.61,644.04 L1684.19,644.04 L1684.48,646.75 L1687.05,647.81 L1689.16,646.10 L1691.70,648.64 L1689.99,650.75 Z" fill="#ffffff" stroke="#333333" stroke-width="1.45" stroke-linejoin="round"/>
<circle cx="1682.40" cy="655.40" r="5.3" fill="none" stroke="#333333" stroke-width="1.5"/>
<text x="1733.20" y="687.00" font-size="17.77" fill="#333333" text-anchor="middle">Deliver</text>
<text x="1733.20" y="708.80" font-size="17.77" fill="#333333" text-anchor="middle">confirmation</text>
<rect x="1882.90" y="633.40" width="148.10" height="118.10" fill="#ffffff" rx="14.8" stroke="#333333" stroke-width="2.7"/>
<rect x="1892.40" y="641.10" width="30.00" height="19.60" fill="#333333"/>
<path d="M1892.6,641.6 L1907.4,650.8 L1922.2,641.6" fill="none" stroke="#fff" stroke-width="1.6"/>
<text x="1957.00" y="686.50" font-size="17.77" fill="#333333" text-anchor="middle">Send</text>
<text x="1957.00" y="708.20" font-size="17.77" fill="#333333" text-anchor="middle">confirmation</text>
<circle cx="2139.4" cy="692.5" r="26.1" fill="#ffffff" stroke="#333333" stroke-width="5.6"/>
<text x="2142.20" y="740.30" font-size="16.29" fill="#333333" text-anchor="middle">Application</text>
<text x="2142.20" y="759.90" font-size="16.29" fill="#333333" text-anchor="middle">issued</text>
<rect x="1256.20" y="744.10" width="148.00" height="119.80" fill="#ffffff" rx="14.8" stroke="#333333" stroke-width="2.7"/>
<path d="M1262.80,779.30 V769.70 C1262.80,766.10 1266.20,764.10 1270.50,762.00 C1272.70,763.40 1277.70,763.40 1279.90,762.00 C1284.20,764.10 1288.30,766.10 1288.30,769.70 V779.30 Z" fill="#fff" stroke="#333333" stroke-width="1.2"/>
<path d="M1268.40,765.30 C1269.70,770.90 1280.70,770.90 1282.10,765.30" fill="none" stroke="#333333" stroke-width="1.1"/>
<path d="M1267.40,779.30 V770.90 M1283.80,779.30 V770.90" fill="none" stroke="#333333" stroke-width="1.1"/>
<circle cx="1275.10" cy="756.70" r="6.0" fill="#fff" stroke="#333333" stroke-width="1.2"/>
<path d="M1268.80,757.30 C1268.40,748.70 1281.80,748.70 1281.40,757.30 C1280.00,754.90 1277.70,754.00 1275.10,754.40 C1272.50,754.00 1270.20,754.90 1268.80,757.30 Z" fill="#333333"/>
<text x="1330.20" y="787.00" font-size="17.77" fill="#333333" text-anchor="middle">Accelerate</text>
<text x="1330.20" y="808.80" font-size="17.77" fill="#333333" text-anchor="middle">decision</text>
<text x="1330.20" y="829.60" font-size="17.77" fill="#333333" text-anchor="middle">making</text>
<circle cx="1473.1" cy="803.5" r="26.1" fill="#ffffff" stroke="#333333" stroke-width="5.6"/>
<text x="1474.30" y="853.30" font-size="16.29" fill="#333333" text-anchor="middle">Decision</text>
<text x="1474.30" y="871.80" font-size="16.29" fill="#333333" text-anchor="middle">accelerated</text>
<rect x="1032.80" y="923.50" width="148.80" height="119.10" fill="#ffffff" rx="14.8" stroke="#333333" stroke-width="2.7"/>
<path d="M1039.40,958.70 V949.10 C1039.40,945.50 1042.80,943.50 1047.10,941.40 C1049.30,942.80 1054.30,942.80 1056.50,941.40 C1060.80,943.50 1064.90,945.50 1064.90,949.10 V958.70 Z" fill="#fff" stroke="#333333" stroke-width="1.2"/>
<path d="M1045.00,944.70 C1046.30,950.30 1057.30,950.30 1058.70,944.70" fill="none" stroke="#333333" stroke-width="1.1"/>
<path d="M1044.00,958.70 V950.30 M1060.40,958.70 V950.30" fill="none" stroke="#333333" stroke-width="1.1"/>
<circle cx="1051.70" cy="936.10" r="6.0" fill="#fff" stroke="#333333" stroke-width="1.2"/>
<path d="M1045.40,936.70 C1045.00,928.10 1058.40,928.10 1058.00,936.70 C1056.60,934.30 1054.30,933.40 1051.70,933.80 C1049.10,933.40 1046.80,934.30 1045.40,936.70 Z" fill="#333333"/>
<text x="1107.20" y="978.00" font-size="17.77" fill="#333333" text-anchor="middle">Decide on</text>
<text x="1107.20" y="999.00" font-size="17.77" fill="#333333" text-anchor="middle">application</text>
<circle cx="1141.4" cy="924.6" r="26.2" fill="#fff" stroke="#333333" stroke-width="2.2" stroke-dasharray="8.5,4.6"/>
<circle cx="1141.4" cy="924.6" r="22.2" fill="#fff" stroke="#333333" stroke-width="2.2" stroke-dasharray="8.5,4.6"/>
<circle cx="1141.4" cy="924.6" r="14.9" fill="#fff" stroke="#333333" stroke-width="3"/>
<line x1="1151.90" y1="924.60" x2="1155.40" y2="924.60" stroke="#333333" stroke-width="1.4"/>
<line x1="1150.49" y1="929.85" x2="1153.52" y2="931.60" stroke="#333333" stroke-width="1.4"/>
<line x1="1146.65" y1="933.69" x2="1148.40" y2="936.72" stroke="#333333" stroke-width="1.4"/>
<line x1="1141.40" y1="935.10" x2="1141.40" y2="938.60" stroke="#333333" stroke-width="1.4"/>
<line x1="1136.15" y1="933.69" x2="1134.40" y2="936.72" stroke="#333333" stroke-width="1.4"/>
<line x1="1132.31" y1="929.85" x2="1129.28" y2="931.60" stroke="#333333" stroke-width="1.4"/>
<line x1="1130.90" y1="924.60" x2="1127.40" y2="924.60" stroke="#333333" stroke-width="1.4"/>
<line x1="1132.31" y1="919.35" x2="1129.28" y2="917.60" stroke="#333333" stroke-width="1.4"/>
<line x1="1136.15" y1="915.51" x2="1134.40" y2="912.48" stroke="#333333" stroke-width="1.4"/>
<line x1="1141.40" y1="914.10" x2="1141.40" y2="910.60" stroke="#333333" stroke-width="1.4"/>
<line x1="1146.65" y1="915.51" x2="1148.40" y2="912.48" stroke="#333333" stroke-width="1.4"/>
<line x1="1150.49" y1="919.35" x2="1153.52" y2="917.60" stroke="#333333" stroke-width="1.4"/>
<path d="M1143.9,912.6 L1140.9,924.9 L1150.4,927.1" fill="none" stroke="#333333" stroke-width="2.2"/>
<circle cx="1141.7" cy="1042.6" r="26.4" fill="#fff" stroke="#333333" stroke-width="2.2"/>
<circle cx="1141.7" cy="1042.6" r="22.2" fill="#fff" stroke="#333333" stroke-width="2.2"/>
<rect x="1127.40" y="1032.60" width="28.90" height="19.00" fill="#fff" stroke="#333333" stroke-width="1.8"/>
<path d="M1127.6,1033 L1141.85,1043 L1156.1,1033" fill="none" stroke="#333333" stroke-width="1.8"/>
<text x="1200.90" y="1083.90" font-size="16.29" fill="#333333" text-anchor="middle">document needed</text>
<rect x="1256.10" y="1091.30" width="149.50" height="117.80" fill="#ffffff" rx="14.8" stroke="#333333" stroke-width="6.9"/>
<rect x="1318.40" y="1179.40" width="21.40" height="21.40" fill="#fff" stroke="#333333" stroke-width="2"/>
<line x1="1329.10" y1="1182.50" x2="1329.10" y2="1197.70" stroke="#333333" stroke-width="3"/>
<line x1="1321.50" y1="1190.10" x2="1336.70" y2="1190.10" stroke="#333333" stroke-width="3"/>
<text x="1331.10" y="1144.50" font-size="17.77" fill="#333333" text-anchor="middle">Request</text>
<text x="1331.10" y="1166.60" font-size="17.77" fill="#333333" text-anchor="middle">document</text>
<path d="M1572,946 L1609,983 L1572,1020 L1535,983 Z" fill="#ffffff" stroke="#333333" stroke-width="2.7" stroke-linejoin="miter"/>
<path d="M1558.1,967.7 L1567.6999999999998,967.7 L1586.9,998.1 L1577.3000000000002,998.1 Z M1577.3000000000002,967.7 L1586.9,967.7 L1567.6999999999998,998.1 L1558.1,998.1 Z" fill="#333333" fill-rule="nonzero"/>
<text x="1680.00" y="983.20" font-size="16.29" fill="#333333" text-anchor="middle">Decision?</text>
<text x="1634.20" y="891.00" font-size="16.29" fill="#333333" text-anchor="middle">application</text>
<text x="1634.20" y="910.80" font-size="16.29" fill="#333333" text-anchor="middle">accepted</text>
<text x="1625.30" y="1053.60" font-size="16.29" fill="#333333" text-anchor="middle">application</text>
<text x="1625.30" y="1072.00" font-size="16.29" fill="#333333" text-anchor="middle">declined</text>
<rect x="1658.90" y="1289.80" width="148.60" height="118.80" fill="#ffffff" rx="14.8" stroke="#333333" stroke-width="2.7"/>
<path d="M1672.62,1297.83 L1672.91,1295.41 L1676.49,1295.41 L1676.78,1297.83 L1678.62,1298.59 L1680.53,1297.08 L1683.07,1299.62 L1681.56,1301.53 L1682.32,1303.37 L1684.74,1303.66 L1684.74,1307.24 L1682.32,1307.53 L1681.56,1309.37 L1683.07,1311.28 L1680.53,1313.82 L1678.62,1312.31 L1676.78,1313.07 L1676.49,1315.49 L1672.91,1315.49 L1672.62,1313.07 L1670.78,1312.31 L1668.87,1313.82 L1666.33,1311.28 L1667.84,1309.37 L1667.08,1307.53 L1664.66,1307.24 L1664.66,1303.66 L1667.08,1303.37 L1667.84,1301.53 L1666.33,1299.62 L1668.87,1297.08 L1670.78,1298.59 Z" fill="#ffffff" stroke="#333333" stroke-width="1.45" stroke-linejoin="round"/>
<circle cx="1674.70" cy="1305.45" r="4.6" fill="none" stroke="#333333" stroke-width="1.5"/>
<path d="M1690.85,1309.72 L1693.56,1310.01 L1693.56,1313.59 L1690.85,1313.88 L1689.79,1316.45 L1691.50,1318.56 L1688.96,1321.10 L1686.85,1319.39 L1684.28,1320.45 L1683.99,1323.16 L1680.41,1323.16 L1680.12,1320.45 L1677.55,1319.39 L1675.44,1321.10 L1672.90,1318.56 L1674.61,1316.45 L1673.55,1313.88 L1670.84,1313.59 L1670.84,1310.01 L1673.55,1309.72 L1674.61,1307.15 L1672.90,1305.04 L1675.44,1302.50 L1677.55,1304.21 L1680.12,1303.15 L1680.41,1300.44 L1683.99,1300.44 L1684.28,1303.15 L1686.85,1304.21 L1688.96,1302.50 L1691.50,1305.04 L1689.79,1307.15 Z" fill="#ffffff" stroke="#333333" stroke-width="1.45" stroke-linejoin="round"/>
<circle cx="1682.20" cy="1311.80" r="5.3" fill="none" stroke="#333333" stroke-width="1.5"/>
<text x="1733.20" y="1343.70" font-size="17.77" fill="#333333" text-anchor="middle">Reject</text>
<text x="1733.20" y="1364.30" font-size="17.77" fill="#333333" text-anchor="middle">application</text>
<rect x="1882.70" y="1289.80" width="148.60" height="118.80" fill="#ffffff" rx="14.8" stroke="#333333" stroke-width="2.7"/>
<rect x="1892.20" y="1297.50" width="30.00" height="19.60" fill="#333333"/>
<path d="M1892.4,1298 L1907.2,1307.2 L1922,1298" fill="none" stroke="#fff" stroke-width="1.6"/>
<text x="1957.00" y="1354.40" font-size="17.77" fill="#333333" text-anchor="middle">Send rejection</text>
<circle cx="2139.6" cy="1349.4" r="26.1" fill="#ffffff" stroke="#333333" stroke-width="5.6"/>
<text x="2139.20" y="1397.90" font-size="16.29" fill="#333333" text-anchor="middle">Application</text>
<text x="2139.20" y="1417.80" font-size="16.29" fill="#333333" text-anchor="middle">rejected</text>
<g mask="url(#halomask)"><g filter="url(#halo)" opacity="0.58">
<rect x="1204.20" y="692.10" width="252.00" height="223.80" fill="#9696f5" rx="60"/>
<rect x="1002.80" y="897.50" width="210.80" height="189.10" fill="#9696f5" rx="40"/>
</g></g>
<g filter="url(#heat)">
<rect x="1256.20" y="744.10" width="148.00" height="119.80" fill="#000" rx="14"/>
</g>
<g filter="url(#heat2)">
<rect x="1034.80" y="925.50" width="144.80" height="115.10" fill="#000" rx="12" fill-opacity="0.18"/>
</g>
<rect x="1379.00" y="731.00" width="46.00" height="33.00" fill="#e0e0e0" rx="16.5"/>
<text x="1392.30" y="753.40" font-size="16.76" fill="#393939" textLength="19.81" lengthAdjust="spacingAndGlyphs">1d</text>
<rect x="1157.20" y="911.10" width="46.30" height="33.20" fill="#e0e0e0" rx="16.6"/>
<text x="1170.00" y="933.10" font-size="16.76" fill="#393939" textLength="19.01" lengthAdjust="spacingAndGlyphs">2d</text>
<g filter="url(#tshadow)">
<rect x="1175.80" y="608.20" width="308.20" height="122.80" fill="#000" rx="8"/>
<path d="M1323.3,730.5 L1337.3,730.5 L1330.3,737.2 Z" fill="#000"/>
</g>
<text x="1191.70" y="645.80" font-size="20.25" fill="#ebebeb" textLength="175.50" lengthAdjust="spacingAndGlyphs" xml:space="preserve"><tspan>Target duration: </tspan><tspan font-weight="bold">1d</tspan></text>
<text x="1191.70" y="676.80" font-size="20.25" fill="#ebebeb" textLength="276.49" lengthAdjust="spacingAndGlyphs" xml:space="preserve"><tspan>Average duration: </tspan><tspan font-weight="bold">1d 9h 6min</tspan></text>
<text x="1191.70" y="707.90" font-size="20.25" fill="#ebebeb" textLength="227.70" lengthAdjust="spacingAndGlyphs">138% of the target value</text>
<g filter="url(#tshadow)">
<rect x="947.30" y="787.70" width="320.00" height="122.30" fill="#000" rx="8"/>
<path d="M1100.3,909.5 L1114.3,909.5 L1107.3,916.3 Z" fill="#000"/>
</g>
<text x="963.10" y="824.90" font-size="20.25" fill="#ebebeb" textLength="175.50" lengthAdjust="spacingAndGlyphs" xml:space="preserve"><tspan>Target duration: </tspan><tspan font-weight="bold">2d</tspan></text>
<text x="963.10" y="855.90" font-size="20.25" fill="#ebebeb" textLength="289.10" lengthAdjust="spacingAndGlyphs" xml:space="preserve"><tspan>Average duration: </tspan><tspan font-weight="bold">2d 3h 23min</tspan></text>
<text x="963.10" y="887.60" font-size="20.25" fill="#ebebeb" textLength="227.70" lengthAdjust="spacingAndGlyphs">107% of the target value</text>
<rect x="2382.00" y="401.50" width="640.00" height="1216.50" fill="#f4f4f4"/>
<rect x="2381.20" y="401.50" width="2.00" height="1216.50" fill="#c6c6c6"/>
<ellipse cx="2432" cy="434.9" rx="9.8" ry="3" fill="none" stroke="#161616" stroke-width="1.9"/>
<path d="M2422.2,434.9 V453 A9.8,3 0 0 0 2441.8,453 V434.9 M2422.2,440.85 A9.8,3 0 0 0 2441.8,440.85 M2422.2,446.8 A9.8,3 0 0 0 2441.8,446.8" fill="none" stroke="#161616" stroke-width="1.9"/>
<text x="2459.00" y="454.50" font-size="28.35" fill="#161616" textLength="150.99" lengthAdjust="spacingAndGlyphs">Data source</text>
<rect x="2737.20" y="412.50" width="162.50" height="61.20" fill="none" stroke="#2c5ff2" stroke-width="2"/>
<text x="2769.00" y="453.20" font-size="28.21" fill="#2c5ff2" textLength="49.01" lengthAdjust="spacingAndGlyphs">Add</text>
<rect x="2842.80" y="445.60" width="16.90" height="2.20" fill="#2c5ff2"/>
<rect x="2850.15" y="438.10" width="2.20" height="17.00" fill="#2c5ff2"/>
<path d="M2964.6,449 L2974.2,439.4 L2983.8,449" fill="none" stroke="#161616" stroke-width="2.2"/>
<rect x="2417.80" y="510.60" width="570.00" height="143.30" fill="#ffffff" rx="8" stroke="#e0e0e0" stroke-width="2"/>
<text x="2438.80" y="557.40" font-size="23.74" fill="#393939" textLength="229.81" lengthAdjust="spacingAndGlyphs">Camunda Customer</text>
<text x="2438.80" y="591.70" font-size="23.74" fill="#393939" textLength="209.61" lengthAdjust="spacingAndGlyphs">Onboarding Demo</text>
<text x="2438.80" y="627.80" font-size="22.07" fill="#8d8d8d" textLength="110.11" lengthAdjust="spacingAndGlyphs">Version: All</text>
<rect x="2383.00" y="703.50" width="639.00" height="2.00" fill="#c6c6c6"/>
<path d="M2418.9,733.3 V757.8 A2,2 0 0 0 2420.9,759.8 H2445.7" fill="none" stroke="#161616" stroke-width="2"/>
<path d="M2424,758.9 V747.7 H2429.9 V758.9 M2426.95,747.7 V741 M2424.1,741 H2429.8 M2436,758.9 V740.8 H2442.1 V758.9 M2439.05,740.8 V733.9 M2436.2,733.9 H2441.9" fill="none" stroke="#161616" stroke-width="2"/>
<text x="2458.70" y="756.90" font-size="26.54" fill="#161616" textLength="164.49" lengthAdjust="spacingAndGlyphs">Report setup</text>
<path d="M2964.6,751 L2974.2,741.4 L2983.8,751" fill="none" stroke="#161616" stroke-width="2.2"/>
<text x="2511.00" y="853.50" font-size="24.86" fill="#525252" textLength="49.54" lengthAdjust="spacingAndGlyphs">View</text>
<rect x="2574.00" y="812.20" width="415.80" height="61.50" fill="#ffffff"/>
<rect x="2574.00" y="873.70" width="415.80" height="2.00" fill="#8d8d8d"/>
<text x="2607.50" y="854.00" font-size="27.23" fill="#161616" textLength="117.95" lengthAdjust="spacingAndGlyphs">User task</text>
<path d="M2924.5,839.5 L2934,849 L2943.5,839.5" fill="none" stroke="#161616" stroke-width="2.2"/>
<text x="2470.50" y="946.70" font-size="24.86" fill="#525252" textLength="90.09" lengthAdjust="spacingAndGlyphs">Measure</text>
<rect x="2574.00" y="906.20" width="256.80" height="61.00" fill="#ffffff"/>
<rect x="2574.00" y="967.00" width="256.80" height="2.00" fill="#8d8d8d"/>
<text x="2607.50" y="947.40" font-size="27.23" fill="#161616" textLength="107.49" lengthAdjust="spacingAndGlyphs">Duration</text>
<path d="M2765.8,933 L2775.2,942.4 L2784.6,933" fill="none" stroke="#161616" stroke-width="2.2"/>
<text x="2864.60" y="945.50" font-size="27.23" fill="#161616" textLength="44.40" lengthAdjust="spacingAndGlyphs">Avg</text>
<path d="M2930,944 L2931,938 L2947,922 L2953,928 L2937,944 Z M2943.5,925.5 L2949.5,931.5" fill="none" stroke="#161616" stroke-width="1.9" stroke-linejoin="round"/>
<rect x="2928.00" y="947.80" width="28.00" height="2.00" fill="#161616"/>
<rect x="2575.00" y="981.60" width="413.80" height="60.70" fill="none" stroke="#c6c6c6" stroke-width="2" stroke-dasharray="6,4"/>
<text x="2610.00" y="1023.70" font-size="27.51" fill="#a8a8a8" textLength="192.01" lengthAdjust="spacingAndGlyphs">+ Add measure</text>
<text x="2464.90" y="1115.30" font-size="24.86" fill="#525252" textLength="96.11" lengthAdjust="spacingAndGlyphs">Group by</text>
<rect x="2574.00" y="1074.00" width="415.60" height="61.30" fill="#ffffff"/>
<rect x="2574.00" y="1135.30" width="415.60" height="2.00" fill="#8d8d8d"/>
<text x="2606.60" y="1116.30" font-size="27.23" fill="#161616" textLength="132.90" lengthAdjust="spacingAndGlyphs">User tasks</text>
<path d="M2924.3,1102 L2933.8,1111.5 L2943.3,1102" fill="none" stroke="#161616" stroke-width="2.2"/>
<text x="2432.00" y="1208.90" font-size="24.86" fill="#525252" textLength="128.99" lengthAdjust="spacingAndGlyphs">Target value</text>
<rect x="2574.00" y="1168.00" width="351.80" height="63.70" fill="#2251dd"/>
<text x="2606.60" y="1209.50" font-size="26.54" fill="#ffffff" textLength="158.80" lengthAdjust="spacingAndGlyphs">Mark targets</text>
<path d="M2861.5,1201.8 C2869,1190 2883,1190 2890.5,1201.8 C2883,1213.6 2869,1213.6 2861.5,1201.8 Z" fill="none" stroke="#fff" stroke-width="2"/>
<circle cx="2876" cy="1201.8" r="4.2" fill="none" stroke="#fff" stroke-width="2"/>
<path d="M2946,1207.5 L2947,1201.5 L2963,1185.5 L2969,1191.5 L2953,1207.5 Z M2959.5,1189 L2965.5,1195" fill="none" stroke="#161616" stroke-width="1.9" stroke-linejoin="round"/>
<rect x="2944.00" y="1212.00" width="28.00" height="2.00" fill="#161616"/>
<rect x="2383.00" y="1279.70" width="639.00" height="2.00" fill="#c6c6c6"/>
<path d="M2421,1312 H2443 V1316 L2435.5,1324 V1334 H2428.5 V1324 L2421,1316 Z" fill="none" stroke="#161616" stroke-width="2" stroke-linejoin="round"/>
<text x="2459.00" y="1333.00" font-size="27.93" fill="#161616" textLength="79.31" lengthAdjust="spacingAndGlyphs">Filters</text>
<path d="M2964.6,1317.5 L2974.2,1327.1 L2983.8,1317.5" fill="none" stroke="#161616" stroke-width="2.2"/>
<rect x="2383.00" y="1361.60" width="639.00" height="2.00" fill="#c6c6c6"/>
<rect x="2383.00" y="1543.00" width="639.00" height="2.00" fill="#e0e0e0"/>
<text x="2475.40" y="1588.20" font-size="21.79" fill="#161616" textLength="455.40" lengthAdjust="spacingAndGlyphs" stroke="#161616" stroke-width="0.5">Displaying data from 1117 of 3753 instances.</text>
<rect x="2383.00" y="1613.70" width="639.00" height="2.00" fill="#c6c6c6"/>
</svg>
</body></html>
